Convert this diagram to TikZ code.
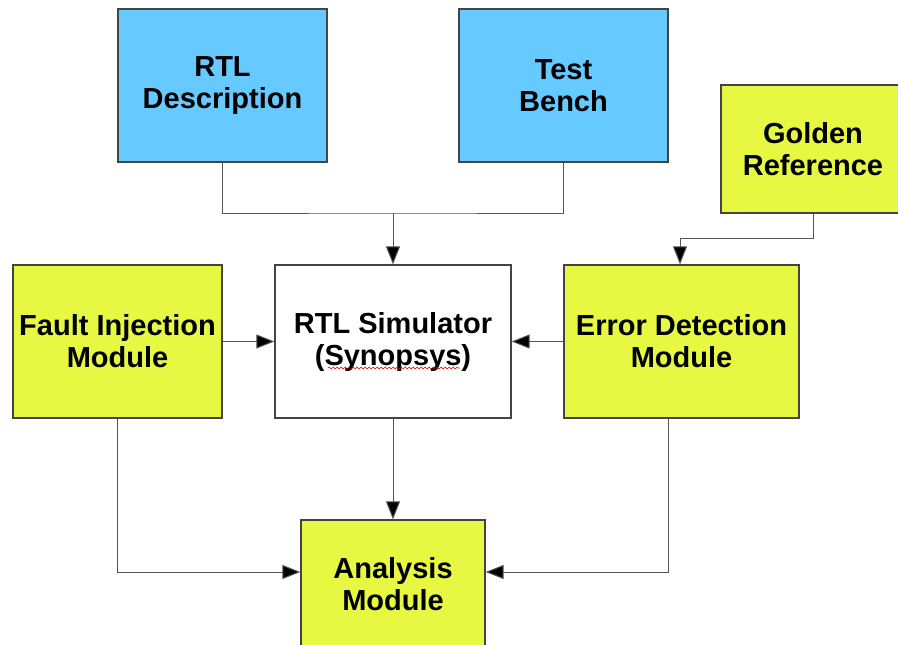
\documentclass[tikz,border=0pt]{standalone}
\usepackage{fontspec}
\setmainfont{Liberation Sans}
\usetikzlibrary{arrows.meta,calc,decorations.pathmorphing}
\definecolor{boxblue}{HTML}{66C9FF}
\definecolor{boxyellow}{HTML}{E6F842}
\definecolor{edge}{HTML}{444444}
\definecolor{wire}{HTML}{555555}
\begin{document}
\begin{tikzpicture}[x=1pt,y=-1pt,
  blk/.style={draw=edge,line width=1.2pt,rectangle,align=center,inner sep=0pt,
    font=\fontsize{29}{32}\selectfont\bfseries},
  bluebox/.style={blk,fill=boxblue,minimum width=209pt,minimum height=153pt},
  yelbox/.style={blk,fill=boxyellow},
  wirel/.style={draw=wire,line width=1pt},
  arr/.style={wirel,-{Triangle[length=18pt,width=14pt,fill=black]}}]
\useasboundingbox (0,0) rectangle (898,645);
\clip (0,0) rectangle (898,645);
\node[bluebox] (desc) at (222.5,85.5) {RTL\\Description};
\node[bluebox] (tb) at (563.5,85.5) {Test\\Bench};
\node[yelbox,minimum width=184pt,minimum height=128pt] (gold) at (813,149) {Golden\\Reference};
\node[yelbox,minimum width=209pt,minimum height=153pt] (fault) at (117.5,341.5) {Fault Injection\\Module};
\node[blk,fill=white,minimum width=236pt,minimum height=153pt] (sim) at (393,341.5) {RTL Simulator\\(Synopsys)};
\node[yelbox,minimum width=235pt,minimum height=153pt] (err) at (681.5,341.5) {Error Detection\\Module};
\node[yelbox,minimum width=184pt,minimum height=128pt] (ana) at (393,584) {Analysis\\Module};
% spell-check underline
\draw[red!80!black,line width=0.5pt,decorate,decoration={snake,amplitude=1pt,segment length=4pt}] (328,368) -- (460,368);
% connectors
\coordinate (join) at (393,213);
\draw[wirel] (desc.south) |- (join) -| (tb.south);
\draw[arr] (join) -- (sim.north);
\coordinate (gjoin) at (680,238);
\draw[wirel] (gold.south) |- (gjoin);
\draw[arr] (gjoin) -- (gjoin |- err.north);
\draw[arr] (fault.east) -- (sim.west);
\draw[arr] (err.west) -- (sim.east);
\draw[arr] (sim.south) -- (ana.north);
\draw[arr] (fault.south) |- ([yshift=12pt]ana.west);
\draw[arr] ([xshift=-13.5pt]err.south) |- ([yshift=12pt]ana.east);
\end{tikzpicture}
\end{document}
